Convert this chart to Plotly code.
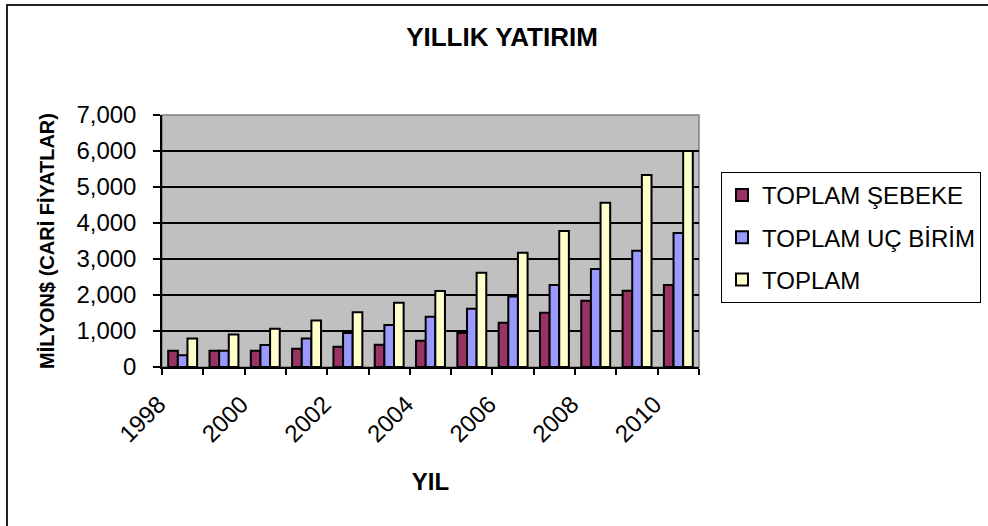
import plotly.graph_objects as go

years = [1998, 1999, 2000, 2001, 2002, 2003, 2004, 2005, 2006, 2007, 2008, 2009, 2010]
sebeke = [450, 450, 450, 510, 565, 620, 730, 945, 1230, 1510, 1840, 2120, 2280]
uc_birim = [325, 450, 610, 790, 945, 1165, 1395, 1620, 1955, 2280, 2720, 3230, 3720]
toplam = [790, 900, 1065, 1295, 1520, 1785, 2110, 2620, 3175, 3780, 4565, 5335, 6000]

series_names = ["TOPLAM ŞEBEKE", "TOPLAM UÇ BİRİM", "TOPLAM"]
series_values = [sebeke, uc_birim, toplam]
series_colors = ["#993366", "#9999FF", "#FFFFCC"]

label_years = [1998, 2000, 2002, 2004, 2006, 2008, 2010]
y_ticks = [0, 1000, 2000, 3000, 4000, 5000, 6000, 7000]

FONT = "Liberation Sans, Arial, sans-serif"

fig = go.Figure()
for i, (name, vals, col) in enumerate(zip(series_names, series_values, series_colors)):
    fig.add_trace(go.Bar(
        x=years, y=vals, name=name, legendgroup=str(i),
        marker=dict(color=col, line=dict(color="black", width=2)),
    ))

# plot area geometry (pixels)
L, R, T, B = 162, 699, 115, 367
W, H = 988, 526
pw, ph = R - L, B - T

fig.update_layout(
    width=W, height=H,
    margin=dict(l=L, r=W - R, t=T, b=H - B, autoexpand=False),
    paper_bgcolor="white",
    plot_bgcolor="#C0C0C0",
    barmode="group",
    bargap=0.3,
    bargroupgap=0,
    font=dict(family=FONT, color="black"),
    title=dict(text="<b>YILLIK YATIRIM</b>", x=502 / W, xanchor="center",
               y=1 - 37 / H, yanchor="middle",
               font=dict(size=26, family=FONT, color="black")),
    showlegend=True,
    legend=dict(
        x=(721 - L) / pw, xanchor="left",
        y=(B - 172) / ph, yanchor="top",
        bordercolor="black", borderwidth=1,
        bgcolor="white",
        font=dict(size=24, family=FONT, color="black"),
        traceorder="grouped", tracegroupgap=8,
        itemwidth=30,
    ),
    xaxis=dict(
        range=[1997.5, 2010.5],
        tickmode="array",
        tickvals=label_years,
        ticktext=[str(y) for y in label_years],
        tickangle=-45,
        ticks="", ticklen=0,
        ticklabelstandoff=12,
        ticklabelshift=-24,
        tickfont=dict(size=24, family=FONT, color="black"),
        showgrid=False,
        zeroline=False,
        showline=True, linecolor="black", linewidth=1.5,
        minor=dict(tickmode="linear", tick0=1997.5, dtick=1, ticks="outside",
                   ticklen=6, tickcolor="black", tickwidth=1.5, showgrid=False),
        title=dict(text="<b>YIL</b>", font=dict(size=24, family=FONT, color="black"),
                   standoff=27),
    ),
    yaxis=dict(
        range=[0, 7000],
        tickmode="array",
        tickvals=y_ticks,
        ticktext=[f"{v:,}" for v in y_ticks],
        ticks="outside", ticklen=7, tickcolor="black", tickwidth=1.5,
        ticklabelstandoff=12,
        tickfont=dict(size=24, family=FONT, color="black"),
        showgrid=True, gridcolor="black", gridwidth=1.5,
        zeroline=False,
        showline=True, linecolor="black", linewidth=1.5,
        title=dict(text="<b>MİLYON$ (CARİ FİYATLAR)</b>",
                   font=dict(size=20, family=FONT, color="black"), standoff=16),
    ),
    shapes=[
        dict(type="rect", xref="x domain", yref="y domain", x0=0, x1=1, y0=0, y1=1,
             line=dict(color="#808080", width=1.5), layer="below"),
        dict(type="rect", xref="paper", yref="paper",
             x0=(7 - L) / pw, x1=(1000 - L) / pw,
             y0=(B - 540) / ph, y1=(B - 5) / ph,
             line=dict(color="#222222", width=2), layer="below"),
    ],
)

fig.write_html("out.html", config={"displayModeBar": False},
               post_script="document.body.style.margin='0';")
